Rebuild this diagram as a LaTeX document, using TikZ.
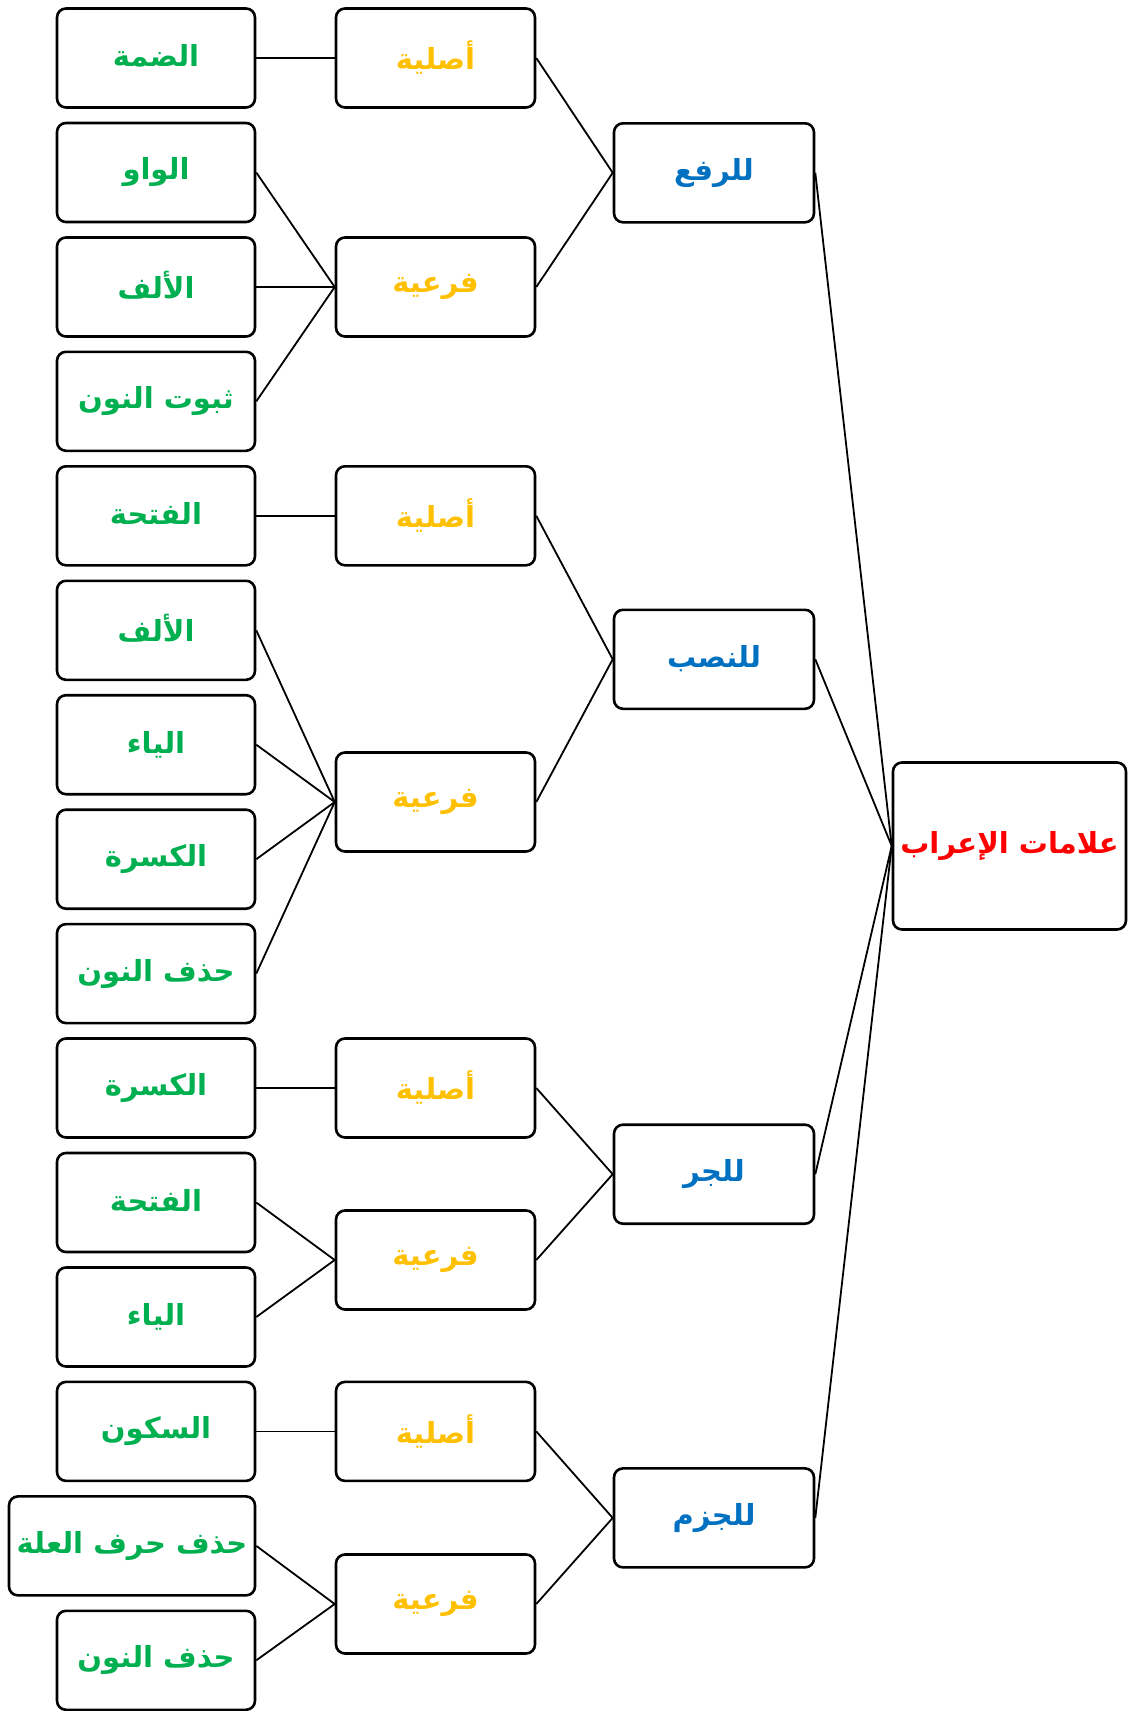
\documentclass[tikz,border=0pt]{standalone}
\usepackage{fontspec}
\newfontfamily\arabicfont[Script=Arabic]{DejaVu Sans}
\TeXXeTstate=1
\definecolor{lgreen}{HTML}{00B050}
\definecolor{lgold}{HTML}{FFC000}
\definecolor{lblue}{HTML}{0070C0}
\definecolor{lred}{HTML}{FF0000}
\newcommand{\artxt}[1]{\raisebox{5pt}{\beginR #1\endR}}
\tikzset{
  box/.style={draw, line width=2.6pt, rounded corners=9pt, minimum height=99pt, inner sep=0pt, fill=white,
    font=\arabicfont\bfseries\fontsize{29}{32}\selectfont},
  leafbox/.style={box, minimum width=198pt, text=lgreen},
  midbox/.style={box, minimum width=199pt, text=lgold},
  catbox/.style={box, minimum width=200pt, text=lblue},
  rootbox/.style={box, minimum width=233pt, minimum height=167pt, text=lred},
  link/.style={line width=1.8pt}
}
\begin{document}
\begin{tikzpicture}[x=1pt,y=-1pt]
\useasboundingbox (0,0) rectangle (1128,1711);
% root
\node[rootbox] (root) at (1009.5,846) {\artxt{علامات الإعراب}};
% categories
\node[catbox] (c1) at (714,172.8) {\artxt{للرفع}};
\node[catbox] (c2) at (714,659.3) {\artxt{للنصب}};
\node[catbox] (c3) at (714,1174.2) {\artxt{للجر}};
\node[catbox] (c4) at (714,1517.9) {\artxt{للجزم}};
% middle
\node[midbox] (m1) at (435.5,58) {\artxt{أصلية}};
\node[midbox] (m2) at (435.5,287) {\artxt{فرعية}};
\node[midbox] (m3) at (435.5,515.8) {\artxt{أصلية}};
\node[midbox] (m4) at (435.5,802) {\artxt{فرعية}};
\node[midbox] (m5) at (435.5,1088) {\artxt{أصلية}};
\node[midbox] (m6) at (435.5,1260) {\artxt{فرعية}};
\node[midbox] (m7) at (435.5,1431.4) {\artxt{أصلية}};
\node[midbox] (m8) at (435.5,1604) {\artxt{فرعية}};
% leaves
\node[leafbox] (l1) at (156,58) {\artxt{الضمة}};
\node[leafbox] (l2) at (156,172.5) {\artxt{الواو}};
\node[leafbox] (l3) at (156,287) {\artxt{الألف}};
\node[leafbox] (l4) at (156,401.3) {\artxt{ثبوت النون}};
\node[leafbox] (l5) at (156,515.8) {\artxt{الفتحة}};
\node[leafbox] (l6) at (156,630.3) {\artxt{الألف}};
\node[leafbox] (l7) at (156,744.7) {\artxt{الياء}};
\node[leafbox] (l8) at (156,859.2) {\artxt{الكسرة}};
\node[leafbox] (l9) at (156,973.6) {\artxt{حذف النون}};
\node[leafbox] (l10) at (156,1088) {\artxt{الكسرة}};
\node[leafbox] (l11) at (156,1202.5) {\artxt{الفتحة}};
\node[leafbox] (l12) at (156,1317) {\artxt{الياء}};
\node[leafbox] (l13) at (156,1431.4) {\artxt{السكون}};
\node[leafbox, minimum width=246pt] (l14) at (132,1545.9) {\artxt{حذف حرف العلة}};
\node[leafbox] (l15) at (156,1660.3) {\artxt{حذف النون}};
% connectors
\foreach \c in {c1,c2,c3,c4} \draw[link] (root.west) -- (\c.east);
\draw[link] (c1.west) -- (m1.east);
\draw[link] (c1.west) -- (m2.east);
\draw[link] (c2.west) -- (m3.east);
\draw[link] (c2.west) -- (m4.east);
\draw[link] (c3.west) -- (m5.east);
\draw[link] (c3.west) -- (m6.east);
\draw[link] (c4.west) -- (m7.east);
\draw[link] (c4.west) -- (m8.east);
\draw[link] (m1.west) -- (l1.east);
\foreach \l in {l2,l3,l4} \draw[link] (m2.west) -- (\l.east);
\draw[link] (m3.west) -- (l5.east);
\foreach \l in {l6,l7,l8,l9} \draw[link] (m4.west) -- (\l.east);
\draw[link] (m5.west) -- (l10.east);
\foreach \l in {l11,l12} \draw[link] (m6.west) -- (\l.east);
\draw[link] (m7.west) -- (l13.east);
\foreach \l in {l14,l15} \draw[link] (m8.west) -- (\l.east);
\end{tikzpicture}
\end{document}
